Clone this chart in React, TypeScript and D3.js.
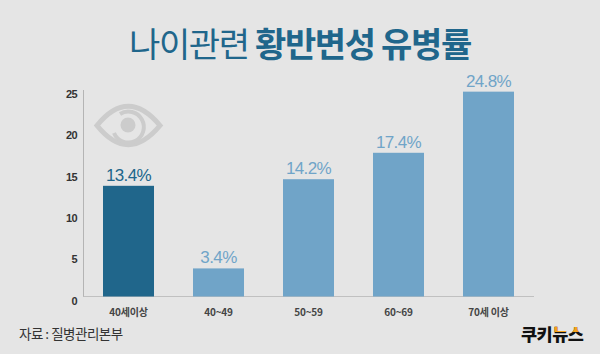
import React from "react";
import * as d3 from "d3";

const categories = ["40세이상", "40~49", "50~59", "60~69", "70세 이상"];
const values = [13.4, 3.4, 14.2, 17.4, 24.8];
const valueLabels = ["13.4%", "3.4%", "14.2%", "17.4%", "24.8%"];
const yTicks = [0, 5, 10, 15, 20, 25];
const highlightIndex = 0;

const DARK = "#20668b";
const LIGHT = "#70a4c8";
const BG = "#e5e5e5";
const FONT = "'Noto Sans CJK KR', 'Liberation Sans', sans-serif";
const NUM = "'Liberation Sans', Arial, sans-serif";

export default function App() {
  const y = d3.scaleLinear().domain([0, 25]).range([296.5, 90]);
  const x = d3.scaleBand().domain(categories).range([83.5, 533.5]).paddingInner(0.4333).paddingOuter(0.2167);
  return (
    <svg width={600} height={354} viewBox="0 0 600 354"
      style={{ position: "fixed", left: 0, top: 0, display: "block", background: BG }}>
      <rect width={600} height={354} fill={BG} />
      <text x={129} y={57} fontFamily={FONT} fontSize={34} fill={DARK} letterSpacing={-1.35}>
        나이관련 <tspan fontWeight={700}>황반변성 유병률</tspan>
      </text>

      {/* eye icon */}
      <g fill="none" stroke="#cccccc">
        <path d="M97,125.5 Q128,87 160,125.5 Q128,164 97,125.5 Z" strokeWidth={5} />
        <path d="M120,114 A15.5,15.5 0 1 1 114,133" strokeWidth={4} />
        <circle cx={128} cy={125} r={7.5} fill="#cccccc" strokeWidth={0} />
      </g>

      <line x1={83.5} x2={83.5} y1={90} y2={297} stroke="#b4b4b4" />
      <line x1={83.5} x2={534} y1={296.5} y2={296.5} stroke="#c0c0c0" />

      {yTicks.map((t) => (
        <text key={t} x={77} y={y(t) + 8} textAnchor="end" fontFamily={NUM} fontWeight={700}
          fontSize={11} fill="#333" letterSpacing={-0.6}>{t}</text>
      ))}

      {categories.map((c, i) => {
        const bx = x(c)!;
        const cx = bx + x.bandwidth() / 2;
        return (
          <g key={c}>
            <rect x={bx} y={y(values[i])} width={x.bandwidth()} height={y(0) - y(values[i])}
              fill={i === highlightIndex ? DARK : LIGHT} />
            <text x={cx} y={y(values[i]) - 5} textAnchor="middle" fontFamily={NUM} fontSize={17}
              letterSpacing={-0.6} fill={i === highlightIndex ? DARK : LIGHT}>{valueLabels[i]}</text>
            <text x={cx} y={316} textAnchor="middle" fontFamily={FONT} fontWeight={700} fontSize={10}
              letterSpacing={-0.2} fill="#444">{c}</text>
          </g>
        );
      })}

      <text x={19} y={339} fontFamily={FONT} fontSize={13.5} letterSpacing={-0.5} fill="#333">자료 : 질병관리본부</text>

      <defs>
        <clipPath id="logoTop"><rect x={553} y={315} width={35} height={17} /></clipPath>
      </defs>
      <text x={521} y={341} fontFamily={FONT} fontWeight={900} fontSize={17.5} letterSpacing={-0.5} fill="#111">쿠키뉴스</text>
      <text x={521} y={341} fontFamily={FONT} fontWeight={900} fontSize={17.5} letterSpacing={-0.5} fill="#f5a21c" clipPath="url(#logoTop)">쿠키뉴스</text>
    </svg>
  );
}
